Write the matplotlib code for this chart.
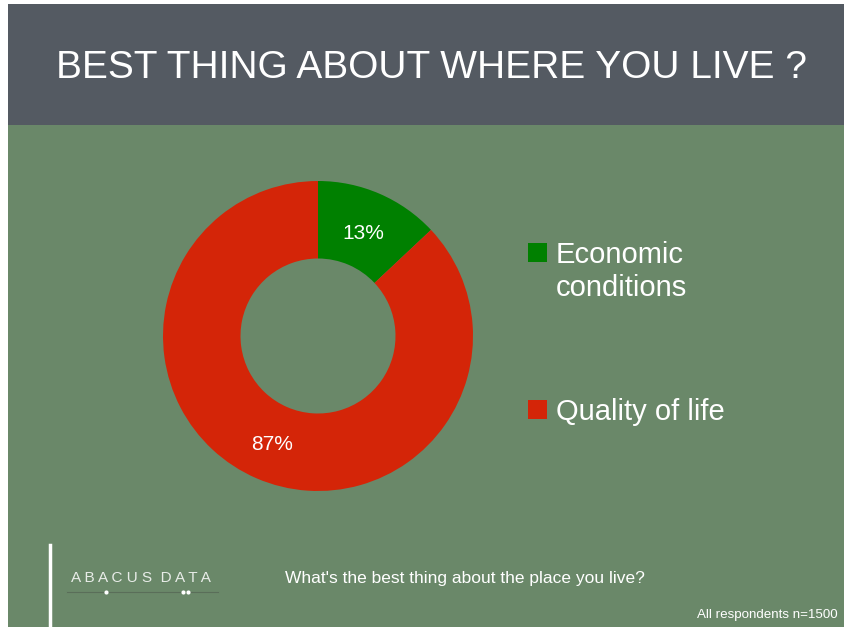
import matplotlib
matplotlib.use("Agg")
import matplotlib.pyplot as plt
from matplotlib.patches import Rectangle
import numpy as np

# data
categories = ["Economic conditions", "Quality of life"]
legend_labels = ["Economic\nconditions", "Quality of life"]
shares = [13, 87]
colors = ["#008000", "#d42508"]

title = "BEST THING ABOUT WHERE YOU LIVE ?"
question = "What's the best thing about the place you live?"
base_note = "All respondents n=1500"

BG = "#6a8869"
HEADER = "#545a62"
W, H = 844, 627

plt.rcParams["font.family"] = ["Liberation Sans", "DejaVu Sans"]

fig = plt.figure(figsize=(W / 100, H / 100), dpi=100)
fig.patch.set_facecolor("white")

def px(x, y):
    # pixel coords (from top-left) -> figure fraction
    return x / W, 1 - y / H

# background panels
fig.patches.append(Rectangle((8 / W, 0), 1, 1 - 125 / H, transform=fig.transFigure,
                             facecolor=BG, edgecolor="none", zorder=-10))
fig.patches.append(Rectangle((8 / W, 1 - 125 / H), 1, (125 - 4) / H, transform=fig.transFigure,
                             facecolor=HEADER, edgecolor="none", zorder=-10))

fig.text(*px(431, 68), title, color="white", fontsize=28, ha="center", va="center")

# donut
cx, cy, r = 318, 336, 155
ax = fig.add_axes([(cx - r) / W, (H - cy - r) / H, 2 * r / W, 2 * r / H])
ax.set_zorder(5)
ax.set_facecolor("none")
wedges, _ = ax.pie(shares, colors=colors, startangle=90, counterclock=False,
                   radius=1, wedgeprops=dict(width=0.5, edgecolor="none"))
ax.set_xlim(-1, 1)
ax.set_ylim(-1, 1)
ax.set_aspect("equal")
ax.axis("off")

# percent labels placed on the ring
start = 90.0
for val in shares:
    mid = start - val / 100 * 360 / 2
    start -= val / 100 * 360
    rr = 0.74
    ax.text(rr * np.cos(np.radians(mid)), rr * np.sin(np.radians(mid)) - 0.02, f"{val}%",
            color="white", fontsize=15, ha="center", va="center")

# legend
legend_y = [253, 410]
for lab, col, ly in zip(legend_labels, colors, legend_y):
    fig.patches.append(Rectangle(px(528, ly + 9), 19 / W, 19 / H, transform=fig.transFigure,
                                 facecolor=col, edgecolor="none"))
    fig.text(*px(556, ly - 12), lab, color="white", fontsize=21, ha="left", va="top",
             linespacing=1.22)

# footer
fig.add_artist(plt.Line2D([50 / W, 50 / W], [0, 1 - 545 / H], color="white", lw=2.5))
fig.text(*px(141, 578), "A B A C U S  D A T A", color="#e8ece8", fontsize=11,
         ha="center", va="center")
fig.add_artist(plt.Line2D([67 / W, 218 / W], [1 - 592 / H] * 2, color="#5a6e59", lw=0.8))
for dx in [106, 183, 188]:
    fig.add_artist(plt.Line2D([dx / W], [1 - 592 / H], marker="o", ms=3, color="white",
                              markeredgecolor="none"))
fig.text(*px(285, 578), question, color="white", fontsize=12.5, ha="left", va="center")
fig.text(*px(838, 615), base_note, color="white", fontsize=9.6, ha="right", va="center")

fig.savefig("out.png", dpi=100, facecolor=fig.get_facecolor())
